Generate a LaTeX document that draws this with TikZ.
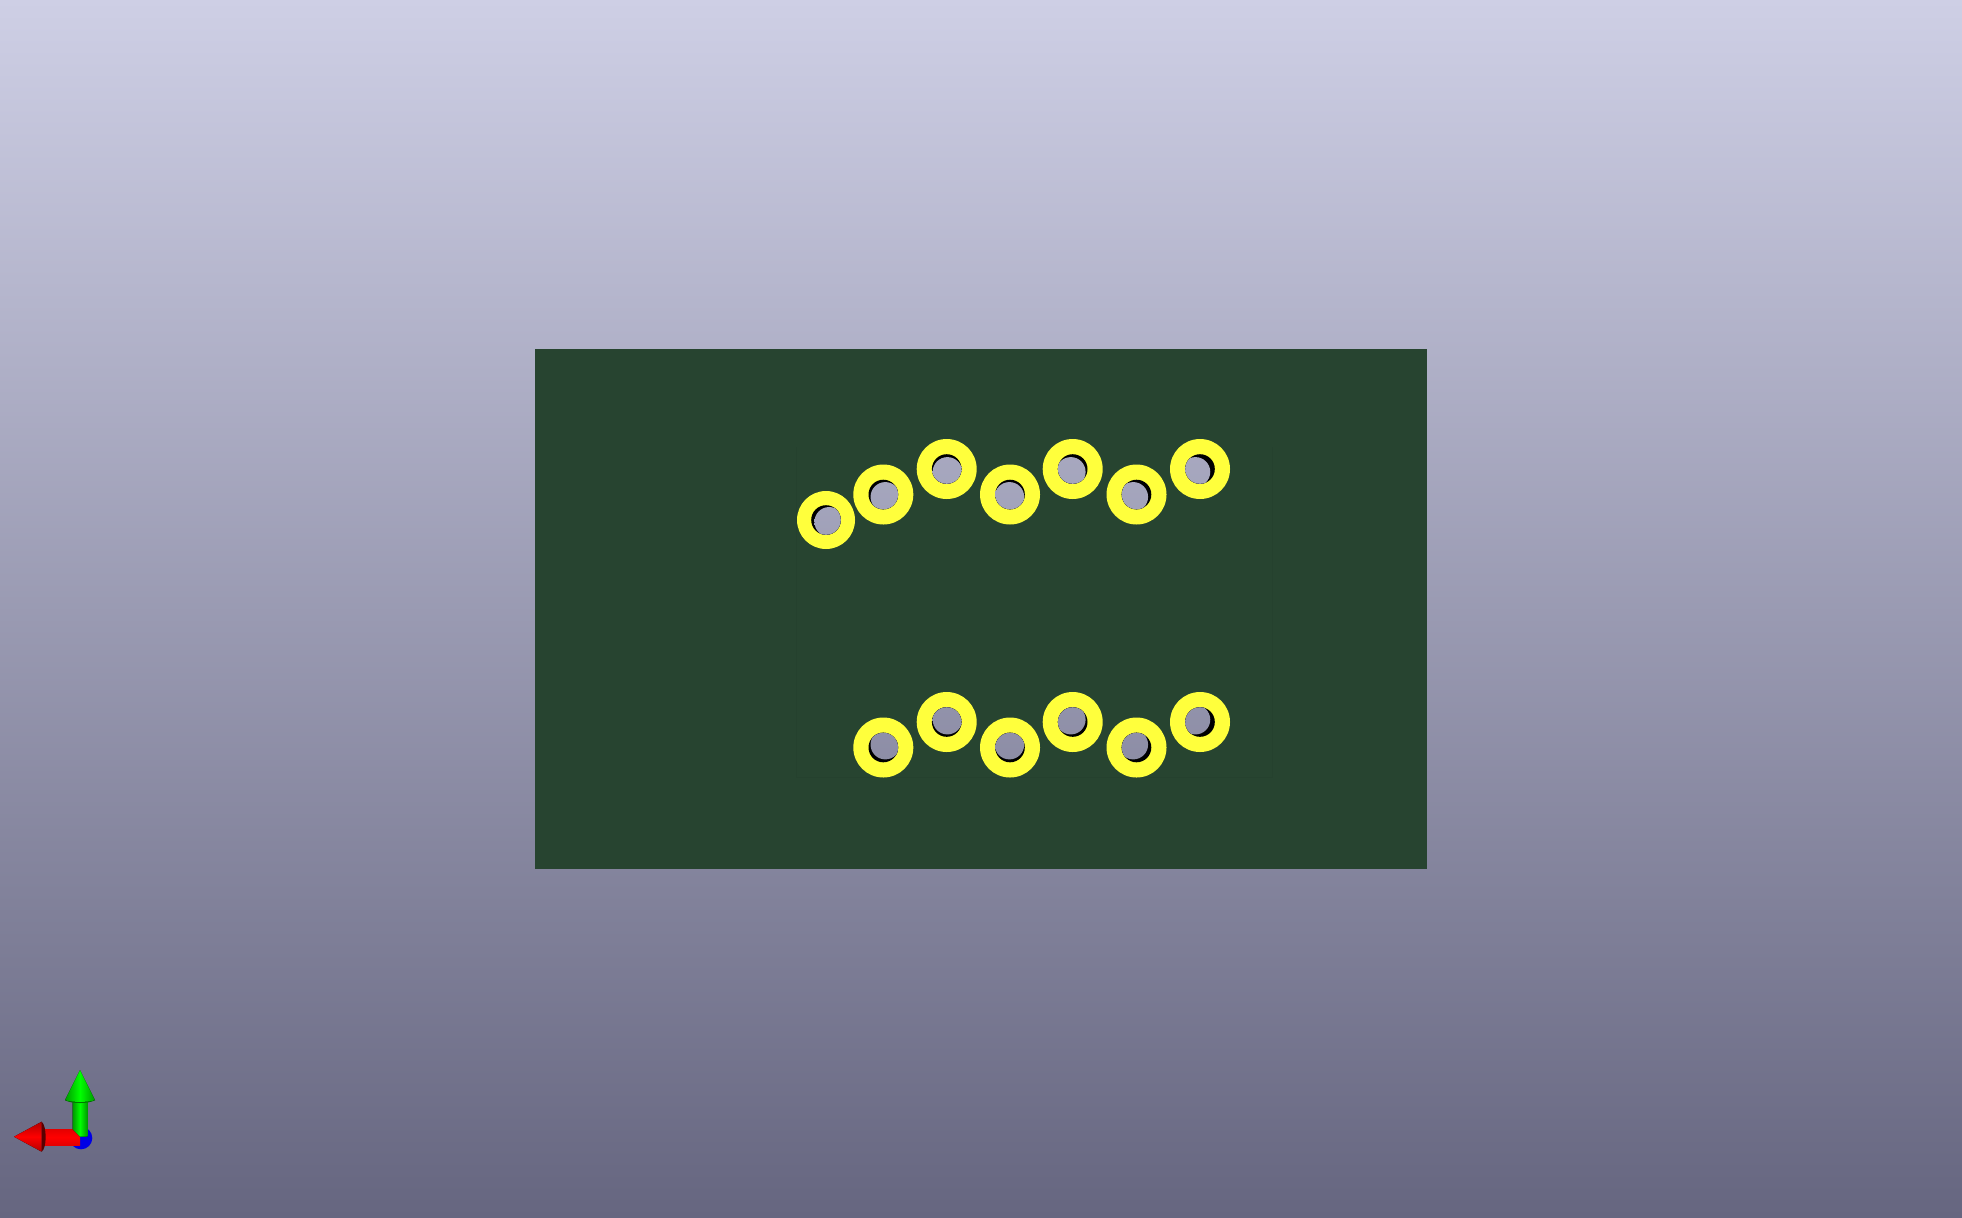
\documentclass[tikz,border=0pt]{standalone}
\usepackage{tikz}
\usetikzlibrary{
  calc}
\definecolor{skytop}{RGB}{206,207,229}
\definecolor{skybottom}{RGB}{102,102,128}
\definecolor{boardgreen}{RGB}{39,68,48}
\definecolor{padyellow}{RGB}{255,255,60}
\tikzset{
  sky/.style={top color=skytop, bottom color=skybottom},
  pad/.style={fill=padyellow},
  wall/.style={fill=black},
  axisred/.style={top color=red!70!black, bottom color=red!70!black, middle color=red},
  axisgreen/.style={left color=green!60!black, right color=green!60!black, middle color=green},
}
\begin{document}
\begin{tikzpicture}[x=0.1mm,y=-0.1mm]

%background
\coordinate (corner0) at (0,0);
\coordinate (corner1) at (1962,1217);
\useasboundingbox (corner0) rectangle (corner1);
\fill[sky] (corner0) rectangle (corner1);

%board
\coordinate (b0) at (535,349);
\coordinate (b1) at (1426.7,868.5);
\fill[boardgreen] (b0) rectangle (b1);
\draw[boardgreen!96!black, line width=0.1mm] (796,447) -- (796,777) -- (1272,777) -- (1272,447);

%pads, far end of the hole shifts toward the centre of the view
\foreach \px/\py/\rad in {
  826/520/2.9,
  883.3/494.5/3, 946.7/469/3, 1010/494.5/3,
  1072.7/469/3, 1136.5/494.5/3, 1200/469/3,
  883.3/747.5/3, 946.7/722/3, 1010/747.5/3,
  1072.7/722/3, 1136.5/747.5/3, 1200/722/3}{
  \pgfmathsetmacro{\dx}{-(\px-981)*0.0208}
  \pgfmathsetmacro{\dy}{-(\py-608)*0.0208}
  \fill[pad] (\px,\py) circle (\rad mm);
  \fill[wall] (\px,\py) circle (1.48mm);
  \begin{scope}
    \clip (\px,\py) circle (1.48mm);
    \clip (\px+\dx,\py+\dy) circle (1.48mm);
    \fill[sky] (corner0) rectangle (corner1);
  \end{scope}
}

%axes
\coordinate (zero) at (81,1138);
\fill[blue!90!black] (zero) circle (1.13mm);
\fill[top color=red!90!black, bottom color=red!90!black, middle color=red]
  (44,1129.3) -- (80,1129.3) -- (80,1145) -- (44,1145) -- cycle;
\fill[red!35!black] (41.7,1121.7) .. controls (47,1126) and (47,1148) .. (41.7,1151.7) -- cycle;
\fill[axisred] (14,1136.7) -- (41.7,1121.7) -- (41.7,1151.7) -- cycle;
\fill[axisgreen] (72.7,1100) -- (72.7,1129.3) -- (80,1136.7) -- (87.3,1136.7) -- (87.3,1100) -- cycle;
\fill[green!45!black] (65,1100) .. controls (70,1104) and (90,1104) .. (95,1100) -- cycle;
\fill[axisgreen] (80,1070) -- (95,1100) .. controls (90,1102.5) and (70,1102.5) .. (65,1100) -- cycle;

\end{tikzpicture}
\end{document}
